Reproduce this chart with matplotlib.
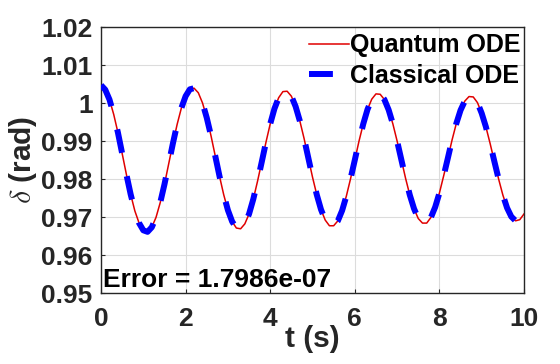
import numpy as np
import matplotlib
matplotlib.use("Agg")
import matplotlib.pyplot as plt

t = np.arange(0, 10.01, 0.1)
delta = [
    1.0047, 1.0035, 1.0009, 0.9970, 0.9922, 0.9867, 0.9812, 0.9760, 0.9716, 0.9684,
    0.9665, 0.9661, 0.9673, 0.9699, 0.9738, 0.9786, 0.9840, 0.9894, 0.9944, 0.9987,
    1.0018, 1.0036, 1.0039, 1.0027, 1.0000, 0.9961, 0.9914, 0.9861, 0.9808, 0.9759,
    0.9718, 0.9688, 0.9671, 0.9669, 0.9682, 0.9708, 0.9747, 0.9794, 0.9845, 0.9897,
    0.9945, 0.9985, 1.0014, 1.0030, 1.0031, 1.0018, 0.9991, 0.9953, 0.9907, 0.9856,
    0.9805, 0.9759, 0.9720, 0.9692, 0.9677, 0.9677, 0.9690, 0.9717, 0.9755, 0.9801,
    0.9850, 0.9900, 0.9945, 0.9983, 1.0010, 1.0024, 1.0023, 1.0009, 0.9982, 0.9945,
    0.9900, 0.9851, 0.9802, 0.9758, 0.9722, 0.9696, 0.9684, 0.9684, 0.9699, 0.9726,
    0.9763, 0.9808, 0.9855, 0.9903, 0.9946, 0.9981, 1.0005, 1.0017, 1.0016, 1.0001,
    0.9973, 0.9937, 0.9893, 0.9846, 0.9800, 0.9758, 0.9724, 0.9701, 0.9690, 0.9693,
    0.9708,
]
error_text = "Error = 1.7986e-07"
xticks = [0, 2, 4, 6, 8, 10]
yticks = [0.95, 0.96, 0.97, 0.98, 0.99, 1.00, 1.01, 1.02]
ytick_labels = ["0.95", "0.96", "0.97", "0.98", "0.99", "1", "1.01", "1.02"]

plt.rcParams['font.family'] = ['Liberation Sans', 'DejaVu Sans']
plt.rcParams['font.weight'] = 'bold'
plt.rcParams['mathtext.fontset'] = 'cm'

fig = plt.figure(figsize=(5.6, 3.64), dpi=100)
ax = fig.add_axes([0.1804, 0.195, 0.7553, 0.7308])

ax.plot(t, delta, color='#e00000', lw=1.1, label='Quantum ODE', zorder=2)
ax.plot(t, delta, color='#0000ff', lw=4.3, dashes=(4.0, 4.0),
        label='Classical ODE', zorder=3)

ax.set_xlim(0, 10)
ax.set_ylim(0.95, 1.02)
ax.set_xticks(xticks)
ax.set_yticks(yticks)
ax.set_yticklabels(ytick_labels)
ax.grid(True, color='#dcdcdc', lw=0.8)
ax.set_axisbelow(True)
ax.tick_params(direction='in', length=3, width=0.8, colors='#262626',
               labelsize=19, labelcolor='#262626')
ax.tick_params(axis='x', pad=10)
ax.tick_params(axis='y', pad=6)
for s in ax.spines.values():
    s.set_color('#262626')
    s.set_linewidth(1.0)

ax.set_xlabel('t (s)', fontsize=21.5, fontweight='bold', color='#262626', labelpad=-4)
ax.set_ylabel(r'$\delta$ (rad)', fontsize=21.5, fontweight='bold', color='#262626', labelpad=2)

ax.text(0.005, 0.024, error_text, transform=ax.transAxes, fontsize=19,
        fontweight='bold', color='black', ha='left', va='baseline')

leg = ax.legend(loc='upper right', bbox_to_anchor=(0.998, 0.985), frameon=False,
                fontsize=18, handlelength=1.6, handletextpad=0.05, labelspacing=0.25,
                borderaxespad=0.0, borderpad=0.1)
for txt in leg.get_texts():
    txt.set_fontweight('bold')

fig.savefig('out.png', dpi=100)
